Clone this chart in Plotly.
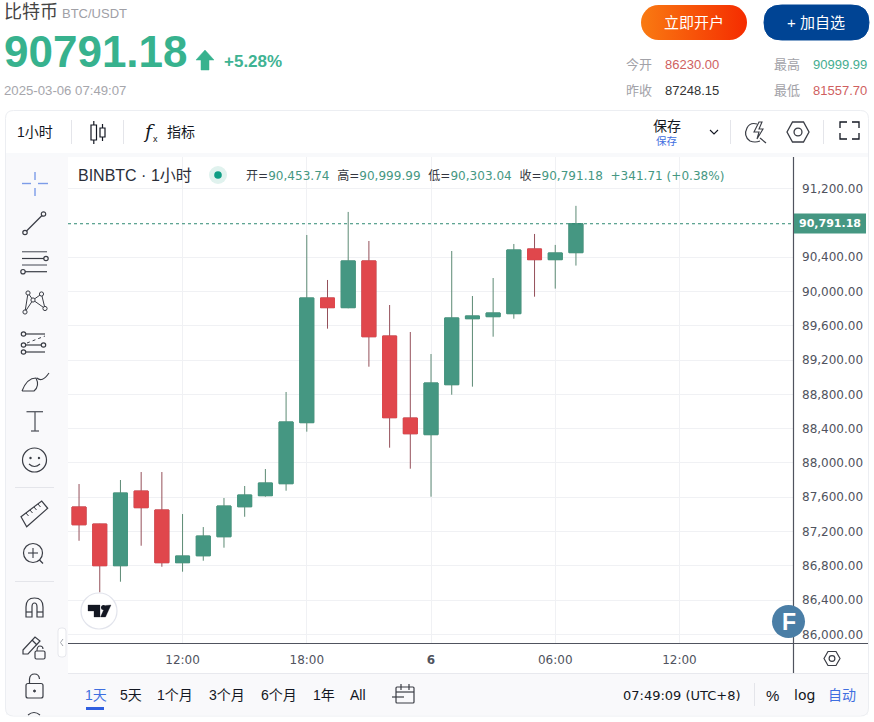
import base64
import plotly.graph_objects as go

W, H = 874, 722

times = ['2025-03-05 %02d:00' % h for h in range(7, 24)] + ['2025-03-06 %02d:00' % h for h in range(0, 8)]
opens = [87486, 87287, 86801, 87672, 87451, 86836, 86917, 87139, 87489, 87618, 87758, 88470, 89925,
         89812, 90357, 89481, 88524, 88330, 88913, 89683, 89707, 89742, 90497, 90372, 90453.74]
highs = [87754, 87290, 87801, 87894, 87894, 87404, 87252, 87591, 87731, 87929, 88828, 90660, 90135,
         90929, 90590, 89843, 89528, 89271, 90473, 89948, 90158, 90555, 90672, 90544, 90999.99]
lows = [87092, 86490, 86614, 87034, 86789, 86731, 86859, 87011, 87372, 87606, 87676, 88365, 89567,
        89805, 89123, 88178, 87933, 87606, 88796, 88890, 89473, 89683, 89940, 90034, 90303.04]
closes = [87279, 86801, 87649, 87478, 86836, 86914, 87147, 87497, 87626, 87766, 88478, 89925, 89812,
          90357, 89473, 88528, 88341, 88933, 89692, 89715, 89750, 90485, 90372, 90450, 90791.18]

# 90,800 sits under the last price label in the reference
tick_prices = [86000, 86400, 86800, 87200, 87600, 88000, 88400, 88800, 89200, 89600, 90000, 90400, 91200]
time_ticks = ['2025-03-05 12:00', '2025-03-05 18:00', '2025-03-06 00:00', '2025-03-06 06:00', '2025-03-06 12:00']
time_labels = ['12:00', '18:00', '<b>6</b>', '06:00', '12:00']

GREEN = '#459782'
RED = '#e0474c'
WICK_G = '#5c8a74'
WICK_R = '#95505a'
ICON = '#3a3d45'
CJK = 'Liberation Sans, Noto Sans CJK SC'
shapes, notes = [], []


def P(d):
    # path in page pixels -> paper coordinates
    out, n = [], 0
    for t in d.split():
        if t.isalpha():
            out.append(t)
            n = 0
        else:
            v = float(t)
            out.append('%.5f' % (v / W if n % 2 == 0 else 1 - v / H))
            n += 1
    return ' '.join(out)


def path(d, color=ICON, w=1.2, fill=None, dash=None):
    shapes.append(dict(type='path', xref='paper', yref='paper', path=P(d), fillcolor=fill or 'rgba(0,0,0,0)',
                       line=dict(color=color, width=w, dash=dash), layer='above'))


def line(x0, y0, x1, y1, color=ICON, w=1.2, dash=None):
    path('M %s %s L %s %s' % (x0, y0, x1, y1), color, w, None, dash)


def rect(x0, y0, x1, y1, fill, color=None, w=0):
    shapes.append(dict(type='rect', xref='paper', yref='paper', x0=x0 / W, x1=x1 / W, y0=1 - y0 / H, y1=1 - y1 / H,
                       fillcolor=fill, line=dict(color=color or fill, width=w), layer='above'))


def circle(cx, cy, r, color=ICON, w=1.2, fill='rgba(0,0,0,0)'):
    shapes.append(dict(type='circle', xref='paper', yref='paper', x0=(cx - r) / W, x1=(cx + r) / W,
                       y0=1 - (cy - r) / H, y1=1 - (cy + r) / H, fillcolor=fill,
                       line=dict(color=color, width=w), layer='above'))


def rrect(x0, y0, x1, y1, r, fill=None, color='#eceef2', w=1):
    d = 'M %s %s L %s %s Q %s %s %s %s L %s %s Q %s %s %s %s L %s %s Q %s %s %s %s L %s %s Q %s %s %s %s Z' % (
        x0 + r, y0, x1 - r, y0, x1, y0, x1, y0 + r, x1, y1 - r, x1, y1, x1 - r, y1,
        x0 + r, y1, x0, y1, x0, y1 - r, x0, y0 + r, x0, y0, x0 + r, y0)
    path(d, color, w, fill)


def hexagon(cx, cy, a, b, color=ICON, w=1.3):
    path('M %s %s L %s %s L %s %s L %s %s L %s %s L %s %s Z' % (
        cx - a, cy, cx - a / 2, cy - b, cx + a / 2, cy - b, cx + a, cy, cx + a / 2, cy + b, cx - a / 2, cy + b), color, w)
    circle(cx, cy, a * 0.36, color, w)


def txt(x, y, s, size=13, color='#131722', anchor='left', family=CJK):
    if anchor == 'left':
        x -= 1  # annotations sit about 1px in
    notes.append(dict(xref='paper', yref='paper', x=x / W, y=1 - y / H, text=s, showarrow=False, xanchor=anchor,
                      yanchor='middle', borderpad=0, font=dict(size=size, color=color, family=family)))


# page header
txt(4, 12, '比特币', 18, '#444444')
txt(62, 13, 'BTC/USDT', 13, '#a0a0a6')
txt(4, 52, '<b>90791.18</b>', 44, '#37b28e')
path('M 205 50 L 214 60 L 209 60 L 209 70 L 201 70 L 201 60 L 196 60 Z', '#37b28e', 0.5, '#37b28e')
txt(224, 62, '<b>+5.28%</b>', 17, '#3fb393')
txt(4, 90, '2025-03-06 07:49:07', 13.2, '#a6a6ac')

svg = ('<svg xmlns="http://www.w3.org/2000/svg" width="106" height="35"><defs><linearGradient id="g">'
       '<stop offset="0" stop-color="#f97a12"/><stop offset="1" stop-color="#f52c00"/></linearGradient></defs>'
       '<rect width="106" height="35" rx="17.5" fill="url(#g)"/></svg>')
button = 'data:image/svg+xml;base64,' + base64.b64encode(svg.encode()).decode()
images = [dict(source=button, xref='paper', yref='paper', x=641 / W, y=1 - 5 / H, sizex=106 / W, sizey=35 / H,
               xanchor='left', yanchor='top', sizing='stretch', layer='above')]
txt(694, 22, '立即开户', 15, '#ffffff', 'center')
rrect(764, 5, 869, 40, 17.5, '#004494', '#004494')
txt(816, 22, '+ 加自选', 15, '#ffffff', 'center')

txt(626, 64, '今开', 13, '#a2a2a8')
txt(665, 64, '86230.00', 13, '#cf5f5f')
txt(774, 64, '最高', 13, '#a2a2a8')
txt(813, 64, '90999.99', 13, '#45ad90')
txt(626, 90, '昨收', 13, '#a2a2a8')
txt(665, 90, '87248.15', 13, '#333333')
txt(774, 90, '最低', 13, '#a2a2a8')
txt(813, 90, '81557.70', 13, '#cf5f5f')

# chart panels
rect(6, 153, 868, 157, '#f8f9fb')
rect(6, 157, 68, 715, '#f9f9fb')
rect(68, 674, 868, 715, '#f9f9fb')
rrect(5.5, 110.5, 868.5, 716, 8)
line(68, 673.5, 868, 673.5, '#e8e9ee', 1)

# top toolbar
txt(17, 132, '1小时', 14)
line(71.5, 120, 71.5, 144, '#e4e5ea', 1)
rect(91, 125, 96.5, 140, '#ffffff', '#131722', 1.2)
line(93.8, 121, 93.8, 125, '#131722')
line(93.8, 140, 93.8, 144, '#131722')
rect(100, 128, 105, 137, '#ffffff', '#131722', 1.2)
line(102.5, 124, 102.5, 128, '#131722')
line(102.5, 137, 102.5, 141, '#131722')
line(123.5, 120, 123.5, 144, '#e4e5ea', 1)
txt(143, 131, '<i>f</i>', 19, '#131722', family='DejaVu Serif')
txt(152.5, 139, 'x', 9, '#131722')
txt(167, 132, '指标', 14)
txt(667, 126, '保存', 14, '#131722', 'center')
txt(667, 141, '保存', 10.5, '#3f6fe0', 'center')
path('M 710 130 L 714 134 L 718 130', '#131722', 1.1)
line(730.5, 120, 730.5, 144, '#e4e5ea', 1)
path('M 757 124 Q 750 122 747 128 Q 743 136 750 141 Q 755 143 760 141', ICON, 1.2)
path('M 759 122 L 754 132 L 759 132 L 757 139 L 763 129 L 759 129 L 762 122 Z', ICON, 1.1)
line(760, 138, 766, 143, ICON, 1.2)
hexagon(798, 132, 11, 10)
line(823.5, 120, 823.5, 144, '#e4e5ea', 1)
for d in ['M 840 128 L 840 122 L 847 122', 'M 852 122 L 859 122 L 859 128', 'M 840 133 L 840 139 L 847 139',
          'M 852 139 L 859 139 L 859 133']:
    path(d, '#131722', 1.3)

# left toolbar
for a in [(22, 183.5, 31, 183.5), (38, 183.5, 48, 183.5), (35, 172, 35, 180), (35, 188, 35, 196)]:
    line(*a, color='#7c9ce8', w=1.4)
line(26.5, 231, 42, 215.5)
circle(25, 232.5, 2.2)
circle(43.5, 214, 2.2)
line(22, 251.7, 47, 251.7, '#777a82', 1.4)
line(22, 258.5, 44, 258.5)
circle(46, 258.5, 2.2)
line(22, 265, 47, 265, '#777a82', 1.4)
line(25, 271.7, 47, 271.7)
circle(23, 271.7, 2.2)
for a, b in [((28, 293), (25, 312)), ((28, 293), (33, 300)), ((41.5, 294), (45, 308.5)), ((33, 300), (45, 308.5)),
             ((33, 300), (25, 312)), ((33, 300), (41.5, 294))]:
    line(a[0], a[1], b[0], b[1], ICON, 1)
for c in [(28, 293), (41.5, 294), (33, 300), (25, 312), (45, 308.5)]:
    circle(c[0], c[1], 2.1, ICON, 1, '#f9f9fb')
line(26, 334, 45, 334)
line(27, 343, 45, 336, ICON, 1, 'dot')
line(26, 345, 41, 345)
line(26, 352, 45, 352)
for c in [(23.5, 334), (23.5, 345), (43.5, 345), (23.5, 352)]:
    circle(c[0], c[1], 2.2)
path('M 22 391 L 34 391 Q 40 386 36 378 Q 27 378 22 391', ICON, 1.1)
path('M 37 378 Q 42 383 49 373', ICON, 1.1)
line(26.5, 411.7, 43, 411.7, '#555860', 1.3)
line(35, 412, 35, 431, '#555860', 1.3)
line(31, 431, 39, 431, '#555860', 1.3)
circle(34.5, 460, 12)
circle(30.5, 458, 0.6)
circle(39, 458, 0.6)
path('M 29 464 Q 34.5 469 40 464', ICON, 1.1)
line(15, 487.5, 54, 487.5, '#e4e5ea', 1)
path('M 21 516.7 L 41.7 501 L 47.7 508.3 L 26.7 526.7 Z')
for a in [(26, 513, 28.5, 516), (30, 510, 32.5, 513), (34, 507, 36.5, 510), (38, 504, 40.5, 507)]:
    line(*a, w=1)
circle(33, 553, 9.5)
line(28, 553, 38, 553, ICON, 1.1)
line(33, 548, 33, 558, ICON, 1.1)
line(39.5, 560, 43, 563.5)
line(15, 581.5, 54, 581.5, '#e4e5ea', 1)
path('M 26 617 L 26 607 Q 26 598 34.5 598 Q 43 598 43 607 L 43 617 L 37 617 L 37 607 Q 37 603 34.5 603 Q 32 603 32 607 L 32 617 Z')
line(26, 612, 32, 612)
line(37, 612, 43, 612)
path('M 23 650 L 35 637 L 40 641 L 28 654 L 23 654 Z')
line(32, 640, 37, 645)
rrect(35, 651, 45, 659, 1.5, None, ICON, 1.2)
path('M 37 651 Q 37 646 40 646 Q 43 646 43 649', ICON, 1.1)
rrect(26, 683.5, 43, 698, 2, None, ICON, 1.2)
path('M 29.5 683 L 29.5 679 Q 30 674 34.5 674 Q 39 674 39.5 679', ICON, 1.2)
circle(34.5, 691, 1, ICON, 1, ICON)
path('M 28 715 Q 34 710 40 715', ICON, 1.1)

# collapse handle
rrect(58, 628, 66, 657, 3, '#ffffff', '#e6e7ec', 1)
path('M 63 639 L 60.5 642.5 L 63 646', '#a0a3ab', 1)

# legend row
txt(78, 175, 'BINBTC · 1小时', 16, '#2a2e39')
circle(218, 175, 9, '#e0f2ee', 0, '#e0f2ee')
circle(218, 175, 3.8, '#0f9d84', 0, '#0f9d84')
v = '<span style="color:%s">%%s</span>' % GREEN
ohlc = '开=' + v % '90,453.74' + '  高=' + v % '90,999.99' + '  低=' + v % '90,303.04' + '  收=' + v % '90,791.18' \
       + '  ' + v % '+341.71 (+0.38%)'
txt(245.5, 175, ohlc, 12.05, '#333640', family='DejaVu Sans, Noto Sans CJK SC')

# axis lines + last price
line(793.5, 157, 793.5, 673, '#50535e', 1.2)
line(68, 643.5, 868, 643.5, '#50535e', 1.2)
shapes.append(dict(type='line', xref='x', yref='y', x0='2025-03-05 06:28', x1='2025-03-06 17:29', y0=closes[-1], y1=closes[-1],
                   line=dict(color='#2f8a72', width=1, dash='dot'), layer='above'))
rect(794, 213.5, 866, 233.5, GREEN)
txt(830, 223, '<b>90,791.18</b>', 11, '#ffffff', 'center', 'DejaVu Sans')
hexagon(832, 658.5, 8, 7, ICON, 1.2)

# tv logo and F badge
circle(99, 611, 18, '#e2e4ec', 1.2, '#ffffff')
path('M 88 605 L 100 605 L 100 617 L 94 617 L 94 611 L 88 611 Z', '#131722', 0.3, '#131722')
circle(103.5, 607.5, 2.5, '#131722', 0, '#131722')
path('M 100.5 617 L 105.5 605.5 L 111 605 L 105.5 617 Z', '#131722', 0.3, '#131722')
circle(788.5, 621.5, 16.5, '#4a7ea6', 0, '#4a7ea6')
txt(788.5, 622, '<b>F</b>', 23, '#ffffff', 'center')

# bottom row
bottom = [(85, '1天', '#3f6fe0'), (120, '5天', '#131722'), (157, '1个月', '#131722'), (209, '3个月', '#131722'),
          (261, '6个月', '#131722'), (313, '1年', '#131722'), (350, 'All', '#131722')]
for x, s, c in bottom:
    txt(x, 695, s, 14, c)
rect(86, 707, 104, 710, '#2f5fe0')
rrect(396, 687, 414, 703, 1, None, ICON, 1.2)
line(396, 692, 414, 692)
line(401, 684, 401, 690)
line(409, 684, 409, 690)
line(392, 697, 404, 697, ICON, 1.2)
txt(623, 695, '07:49:09 (UTC+8)', 13, '#131722', family='DejaVu Sans')
line(754.5, 683, 754.5, 706, '#e4e5ea', 1)
txt(766, 695, '%', 15, '#131722')
txt(794, 695, 'log', 14, '#131722', family='DejaVu Sans')
txt(828, 695, '自动', 14, '#3f6fe0')

fig = go.Figure()
# wicks first, then plain bodies on top since the wick colour differs from the fill
fig.add_trace(go.Candlestick(x=times, open=opens, high=highs, low=lows, close=closes, whiskerwidth=0,
                             increasing=dict(line=dict(color=WICK_G, width=1), fillcolor=GREEN),
                             decreasing=dict(line=dict(color=WICK_R, width=1), fillcolor=RED)))
fig.add_trace(go.Candlestick(x=times, open=opens, close=closes, whiskerwidth=0,
                             high=[max(o, c) for o, c in zip(opens, closes)],
                             low=[min(o, c) for o, c in zip(opens, closes)],
                             increasing=dict(line=dict(color=GREEN, width=1), fillcolor=GREEN),
                             decreasing=dict(line=dict(color=RED, width=1), fillcolor=RED)))

fig.update_layout(width=W, height=H, margin=dict(l=0, r=0, t=0, b=0), autosize=False, showlegend=False,
                  paper_bgcolor='white', plot_bgcolor='white', shapes=shapes, annotations=notes, images=images,
                  boxgap=0.324, boxgroupgap=0)
fig.update_xaxes(domain=[68 / W, 793 / W], range=['2025-03-05 06:28', '2025-03-06 17:29'], rangeslider_visible=False,
                 tickmode='array', tickvals=time_ticks, ticktext=time_labels, showgrid=True, gridcolor='#f0f1f4',
                 gridwidth=1, zeroline=False, ticks='', tickfont=dict(family='DejaVu Sans', size=12, color='#50535e'),
                 ticklabelstandoff=8)
fig.update_yaxes(domain=[1 - 643 / H, 1 - 157 / H], range=[85899, 91570], side='right', tickmode='array',
                 tickvals=tick_prices, tickformat=',.2f', showgrid=True, gridcolor='#f0f1f4', gridwidth=1,
                 zeroline=False, ticks='', tickfont=dict(family='DejaVu Sans', size=12, color='#50535e'),
                 ticklabelstandoff=8)

fig.write_html("out.html", config={'displayModeBar': False},
               post_script="document.body.style.margin='0';")
